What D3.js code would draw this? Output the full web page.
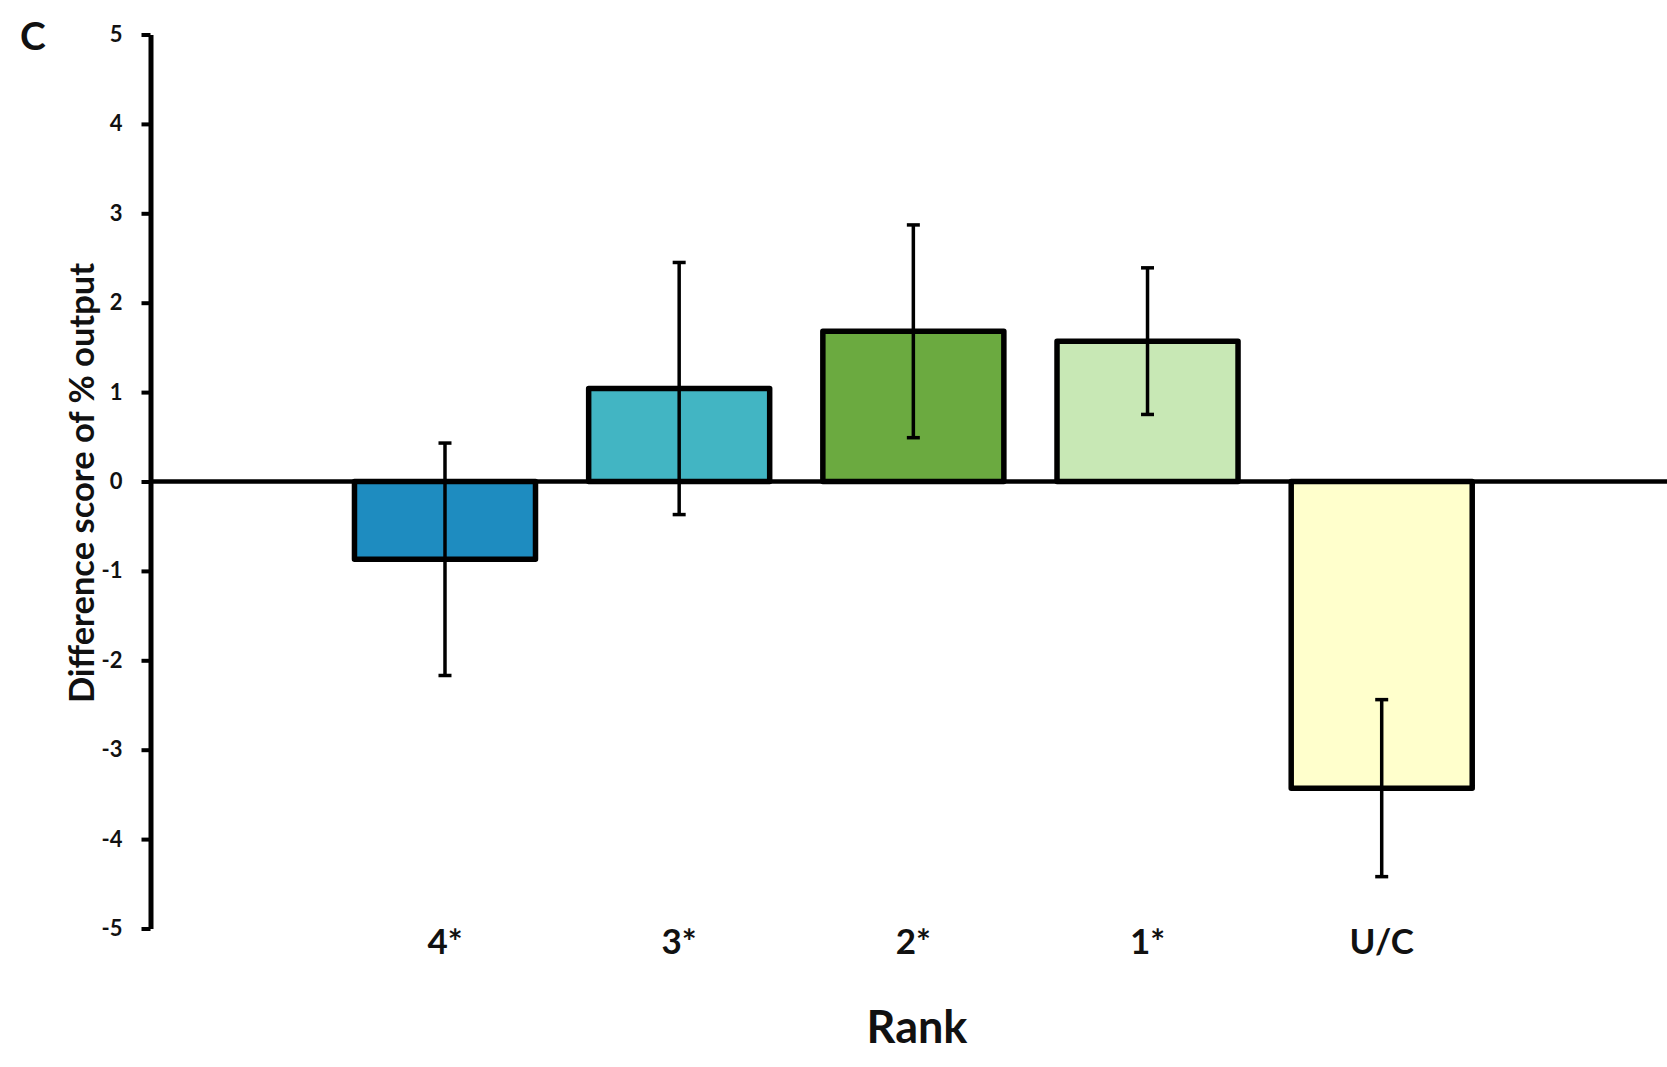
<!DOCTYPE html>
<html>
<head>
<meta charset="utf-8">
<script src="https://cdn.jsdelivr.net/npm/d3@7"></script>
<style>
  html, body { margin: 0; padding: 0; background: #fff; }
  svg { display: block; }
  text { font-family: Lato, "Open Sans", sans-serif; fill: #111; }
</style>
</head>
<body>
<svg id="chart" width="1667" height="1067"></svg>
<script>
// Rank categories and their mean difference scores with error margins
const categories = ["4*", "3*", "2*", "1*", "U/C"];
const means = [-0.87, 1.04, 1.68, 1.57, -3.43];
const errors = [1.30, 1.41, 1.19, 0.82, 0.99];
const barColors = ["#1e8cc0", "#42b5c3", "#6baa40", "#c8e8b5", "#ffffcc"];
const yTickValues = [5, 4, 3, 2, 1, 0, -1, -2, -3, -4, -5];
const panelLabel = "C";
const yTitle = "Difference score of % output";
const xTitle = "Rank";

const rows = categories.map((c, i) => ({ cat: c, mean: means[i], err: errors[i], color: barColors[i] }));

const W = 1667, H = 1067;
const axisX = 150.5;
const svg = d3.select("#chart");

const y = d3.scaleLinear().domain([-5, 5]).range([928.5, 34.5]);
const x = d3.scaleBand()
  .domain(categories)
  .range([327.9, 1498.8])
  .paddingInner(0.227)
  .paddingOuter(0.1135);

// Bars
svg.append("g").selectAll("rect")
  .data(rows)
  .join("rect")
  .attr("x", d => x(d.cat))
  .attr("width", x.bandwidth())
  .attr("y", d => y(Math.max(0, d.mean)))
  .attr("height", d => Math.abs(y(d.mean) - y(0)))
  .attr("fill", d => d.color)
  .attr("stroke", "#000")
  .attr("stroke-width", 5.5)
  .attr("stroke-linejoin", "round");

// Zero baseline across the plot
svg.append("line")
  .attr("x1", axisX).attr("x2", W)
  .attr("y1", y(0)).attr("y2", y(0))
  .attr("stroke", "#000").attr("stroke-width", 4.5);

// Error bars
const eb = svg.append("g").selectAll("g")
  .data(rows)
  .join("g")
  .attr("transform", d => `translate(${x(d.cat) + x.bandwidth() / 2},0)`)
  .attr("stroke", "#000")
  .attr("stroke-width", 3.5);
eb.append("line")
  .attr("y1", d => y(d.mean + d.err))
  .attr("y2", d => y(d.mean - d.err));
eb.append("line")
  .attr("x1", -6.5).attr("x2", 6.5)
  .attr("y1", d => y(d.mean + d.err)).attr("y2", d => y(d.mean + d.err));
eb.append("line")
  .attr("x1", -6.5).attr("x2", 6.5)
  .attr("y1", d => y(d.mean - d.err)).attr("y2", d => y(d.mean - d.err));

// Y axis (plain hyphen for negatives)
const yAxis = svg.append("g")
  .attr("transform", `translate(${axisX},0)`)
  .call(d3.axisLeft(y).tickValues(yTickValues).tickSize(9).tickSizeOuter(0).tickPadding(19)
    .tickFormat(d => String(d)));
yAxis.select(".domain").attr("stroke", "#000").attr("stroke-width", 5);
yAxis.selectAll(".tick line").attr("stroke", "#000").attr("stroke-width", 4);
yAxis.selectAll(".tick text")
  .style("font-family", "Lato, sans-serif")
  .style("font-weight", "bold")
  .style("font-size", "22px")
  .attr("fill", "#111");

// X category labels
svg.append("g").selectAll("text")
  .data(rows)
  .join("text")
  .attr("x", d => x(d.cat) + x.bandwidth() / 2)
  .attr("y", 954)
  .attr("text-anchor", "middle")
  .style("font-weight", "bold")
  .style("font-size", "35px")
  .text(d => d.cat);

// Axis titles and panel letter
svg.append("text")
  .attr("transform", `translate(82,483) rotate(-90)`)
  .attr("text-anchor", "middle")
  .attr("dy", "0.35em")
  .style("font-weight", "bold")
  .style("font-size", "34.5px")
  .text(yTitle);

svg.append("text")
  .attr("x", 917).attr("y", 1043)
  .attr("text-anchor", "middle")
  .style("font-weight", "bold")
  .style("font-size", "45px")
  .text(xTitle);

svg.append("text")
  .attr("x", 20).attr("y", 50)
  .style("font-weight", "bold")
  .style("font-size", "39px")
  .text(panelLabel);
</script>
</body>
</html>
